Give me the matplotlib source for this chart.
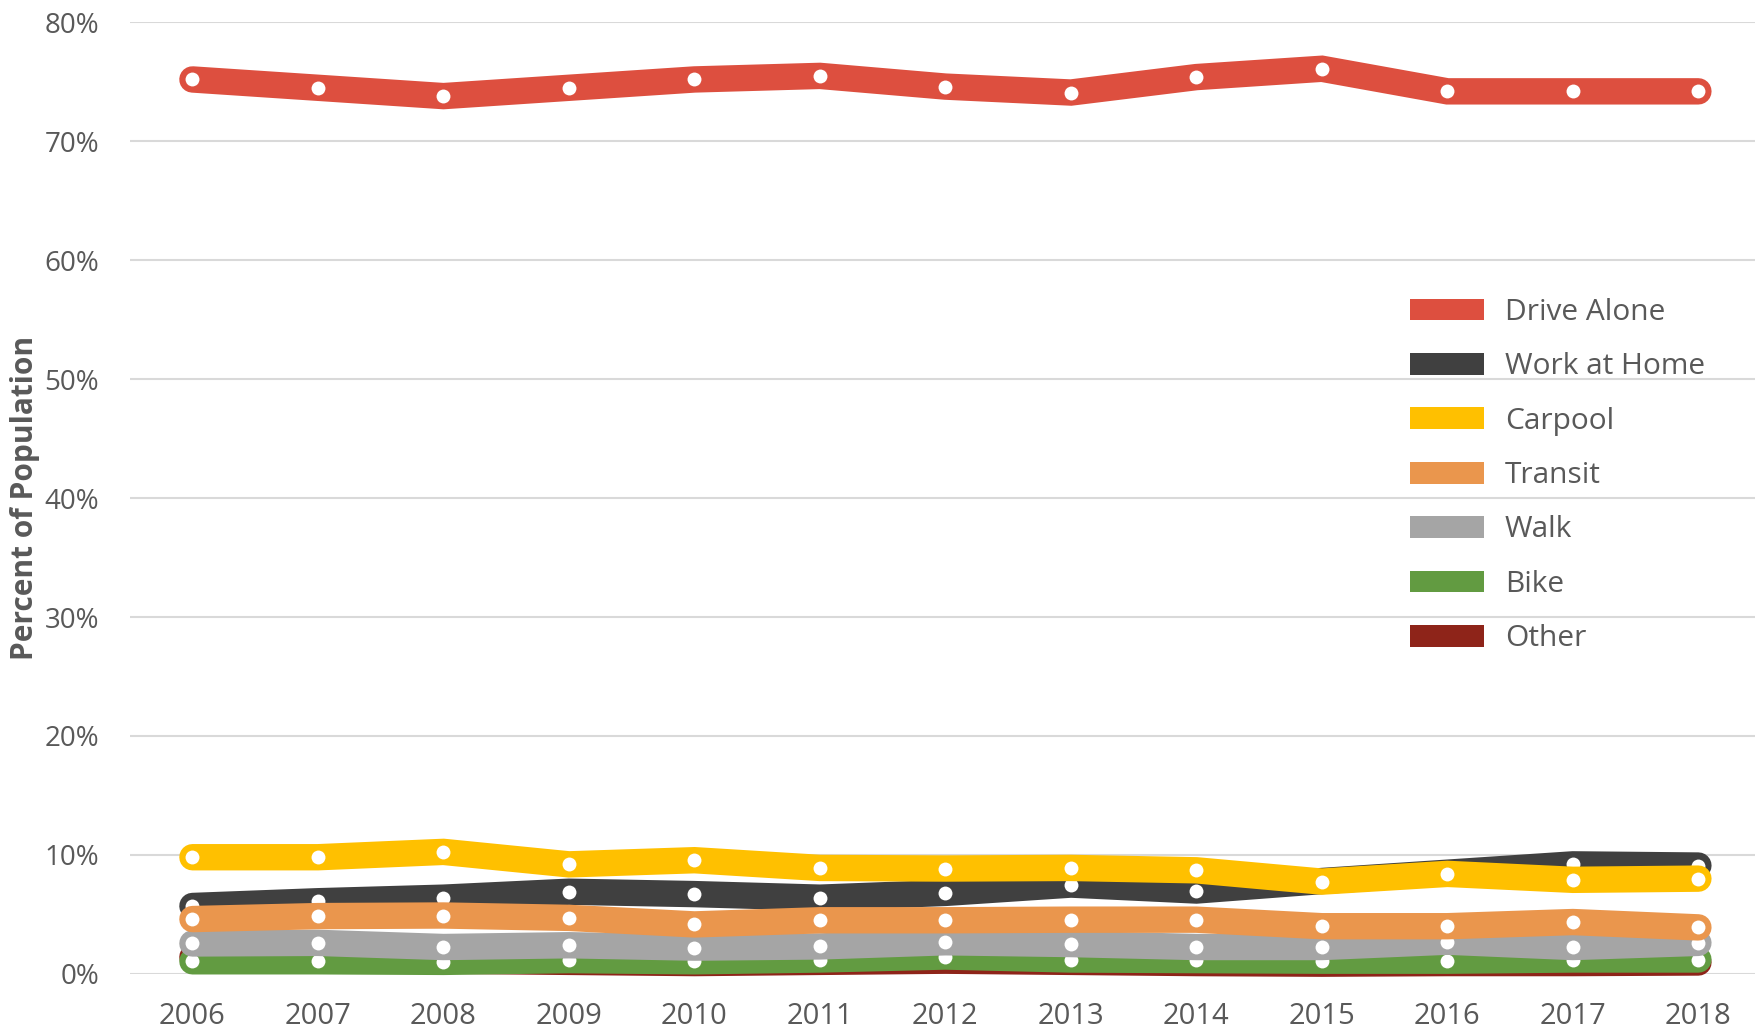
import numpy as np
import matplotlib
matplotlib.use('Agg')
import matplotlib.pyplot as plt
from matplotlib.patches import Patch

plt.rcParams['font.family'] = ['Open Sans', 'DejaVu Sans']

# Commute mode share (% of population)
Years = [2006, 2007, 2008, 2009, 2010, 2011, 2012, 2013, 2014, 2015, 2016, 2017, 2018]
Drive_Alone = [75.2, 74.5, 73.8, 74.5, 75.2, 75.5, 74.6, 74.1, 75.4, 76.1, 74.2, 74.2, 74.2]
Work_Home = [5.7, 6.1, 6.4, 6.9, 6.7, 6.4, 6.8, 7.5, 7.0, 7.8, 8.5, 9.2, 9.1]
Carpool = [9.8, 9.8, 10.25, 9.2, 9.55, 8.9, 8.85, 8.9, 8.7, 7.75, 8.4, 7.9, 8.0]
Transit = [4.6, 4.85, 4.9, 4.7, 4.15, 4.5, 4.5, 4.55, 4.55, 4.0, 4.0, 4.35, 3.9]
Walk = [2.55, 2.6, 2.25, 2.4, 2.2, 2.3, 2.65, 2.5, 2.25, 2.25, 2.7, 2.25, 2.6]
Bike = [1.05, 1.05, 1.0, 1.15, 1.05, 1.2, 1.45, 1.2, 1.15, 1.1, 1.1, 1.2, 1.2]
Other = [1.4, 1.2, 1.1, 1.0, 0.9, 1.0, 1.1, 1.0, 0.9, 0.85, 0.9, 0.9, 0.95]

Labels = ['Drive Alone', 'Work at Home', 'Carpool', 'Transit', 'Walk', 'Bike', 'Other']
Series = [Drive_Alone, Work_Home, Carpool, Transit, Walk, Bike, Other]
Colors = ['#DD4F3F', '#404040', '#FFC000', '#EA964D', '#A5A5A5', '#629B41', '#8E2419']
# drawing order (higher = on top)
Zord = [7, 4, 6, 5, 3, 2, 1]
Txt = '#595959'

fig = plt.figure(figsize=(17.55, 10.31), dpi=100)
ax = fig.add_axes([0.0739, 0.0555, 0.9296, 0.9228])

for i in range(len(Series)):
    ax.plot(Years, Series[i], color=Colors[i], linewidth=19, solid_capstyle='round',
            solid_joinstyle='miter', zorder=Zord[i] * 2, clip_on=False)
    ax.plot(Years, Series[i], 'o', color='white', markersize=10, markeredgewidth=0,
            zorder=Zord[i] * 2 + 1, clip_on=False)

ax.set_xlim(2005.5, 2018.5)
ax.set_ylim(0, 80)
ax.set_xticks(Years)
ax.set_xticklabels([str(y) for y in Years], fontsize=21, color=Txt)
ax.set_yticks(np.arange(0, 81, 10))
ax.set_yticklabels(['{}%'.format(v) for v in range(0, 81, 10)], fontsize=20, color=Txt)
ax.tick_params(axis='both', length=0)
ax.tick_params(axis='x', pad=20)
ax.tick_params(axis='y', pad=22)
ax.grid(axis='y', color='#D9D9D9', linewidth=1.5)
ax.set_axisbelow(True)
for s in ax.spines.values():
    s.set_visible(False)

fig.text(25 / 1755, 1 - 498 / 1031, 'Percent of Population', rotation=90, ha='center', va='center',
         fontsize=21.5, fontweight='bold', color=Txt)

Handles = [Patch(facecolor=c, edgecolor='none') for c in Colors]
fig.legend(Handles, Labels, loc='upper left', bbox_to_anchor=(0.8034, 0.7110), frameon=False,
           fontsize=21.5, labelcolor=Txt, handlelength=2.47, handleheight=0.75,
           handletextpad=0.7, labelspacing=0.85, borderpad=0, borderaxespad=0)

fig.savefig('out.png', dpi=100)
